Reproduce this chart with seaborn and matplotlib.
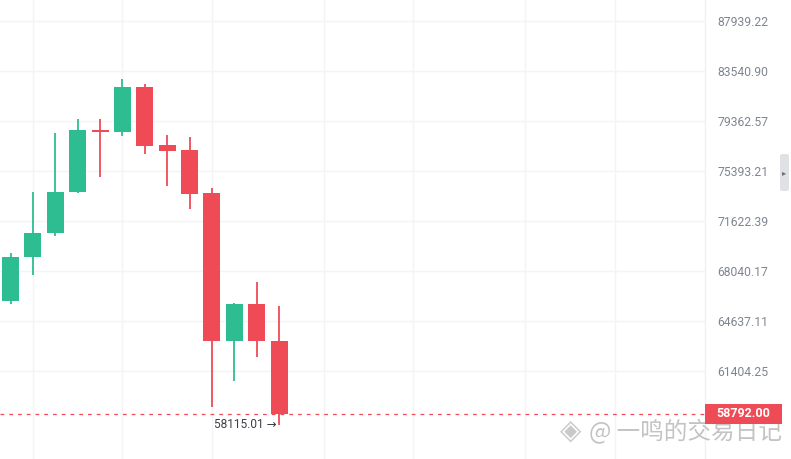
import numpy as np
import pandas as pd
import seaborn as sns
import matplotlib.pyplot as plt
from matplotlib.patches import FancyBboxPatch, Rectangle

# Candle data
opens = [65990, 69000, 70730, 73780, 78630, 78500, 82190, 77440, 77050, 73720, 63310, 65800, 63330]
highs = [69340, 73795, 78400, 79513, 79540, 82867, 82420, 78243, 78082, 74100, 65870, 67305, 65670]
lows = [65780, 67770, 70557, 73700, 74965, 78186, 76755, 74273, 72542, 59185, 60786, 62302, 58115.01]
closes = [69000, 70730, 73780, 78630, 78500, 82190, 77400, 76990, 73670, 63310, 65800, 63310, 58792.00]

price_ticks = [87939.22, 83540.90, 79362.57, 75393.21, 71622.39, 68040.17, 64637.11, 61404.25]
month_idx = [1, 5, 9, 14, 18, 23, 27]
last_price = 58792.00
low_price = 58115.01
watermark = "@ 一鸣的交易日记"

GREEN = "#2ebd91"
RED = "#ef4b57"
GRID = "#f3f4f5"
W, H = 791, 459

df = pd.DataFrame({"open": opens, "high": highs, "low": lows, "close": closes})
df["idx"] = np.arange(len(df))
df["up"] = df["close"] >= df["open"]
df["color"] = np.where(df["up"], GREEN, RED)

sns.set_theme(style="white")
plt.rcParams["font.family"] = ["Roboto", "DejaVu Sans"]

fig = plt.figure(figsize=(W / 100, H / 100), dpi=100)
ax = fig.add_axes([0, 0, 705 / W, 1])

# wicks
ax.vlines(df["idx"], df["low"], df["high"], colors=df["color"], linewidth=1.3, zorder=3)
# bodies
body_bottom = df[["open", "close"]].min(axis=1)
body_h = (df["open"] - df["close"]).abs().clip(lower=120)
ax.bar(df["idx"], body_h, bottom=body_bottom, width=0.76, color=df["color"],
       linewidth=0, zorder=4)

ax.set_yscale("log")
ax.set_ylim(56110, 89870)
ax.set_xlim(-0.47, 31.03)

ax.yaxis.tick_right()
ax.set_yticks(price_ticks)
ax.set_yticklabels([f"{v:.2f}" for v in price_ticks])
ax.yaxis.set_minor_locator(plt.NullLocator())
ax.tick_params(axis="y", length=0, pad=9, labelsize=8.7, labelcolor="#7f8590")
ax.set_xticks(month_idx)
ax.tick_params(axis="x", length=0, labelbottom=False)
ax.grid(True, color=GRID, linewidth=1.0, zorder=0)

for side in ["top", "bottom", "left"]:
    ax.spines[side].set_visible(False)
ax.spines["right"].set_color("#eef0f2")
ax.spines["right"].set_linewidth(1.0)

# last price line + tag
ax.axhline(last_price, color=RED, linestyle=(0, (3, 4)), linewidth=0.9, zorder=2)
y_px = ax.transData.transform((0, last_price))[1]
tag = Rectangle((705 / W, (y_px - 10) / H), 77 / W, 20 / H, transform=fig.transFigure,
                fc=RED, ec="none", zorder=5)
fig.patches.append(tag)
fig.text(743.5 / W, y_px / H, f"{last_price:.2f}", ha="center", va="center",
         fontsize=9, fontweight="bold", color="white", zorder=6)

# lowest price note
ax.annotate(f"{low_price:.2f} →", xy=(len(df) - 1, low_price), xytext=(-2, 0),
            textcoords="offset points", ha="right", va="center",
            fontsize=8.6, color="#3b3f46", zorder=6)

# side collapse button
btn = FancyBboxPatch((780 / W, 1 - 191 / H), 9 / W, 37 / H,
                     boxstyle="round,pad=0,rounding_size=0.004",
                     transform=fig.transFigure, fc="#dfe1e5", ec="none")
fig.patches.append(btn)
fig.text(784.5 / W, 1 - 173 / H, "▸", ha="center", va="center",
         fontsize=6, color="#6b7078", family=["DejaVu Sans"])

# watermark
fig.text(571 / W, 1 - 431 / H, "◈", ha="center", va="center", fontsize=20,
         color="#c4c4c4", alpha=0.9, family=["DejaVu Sans"])
fig.text(589 / W, 1 - 432 / H, watermark, ha="left", va="center", fontsize=17,
         color="#bdbdbd", alpha=0.9, family=["Noto Sans CJK SC", "DejaVu Sans"])

fig.savefig("out.png", dpi=100, facecolor="white")
